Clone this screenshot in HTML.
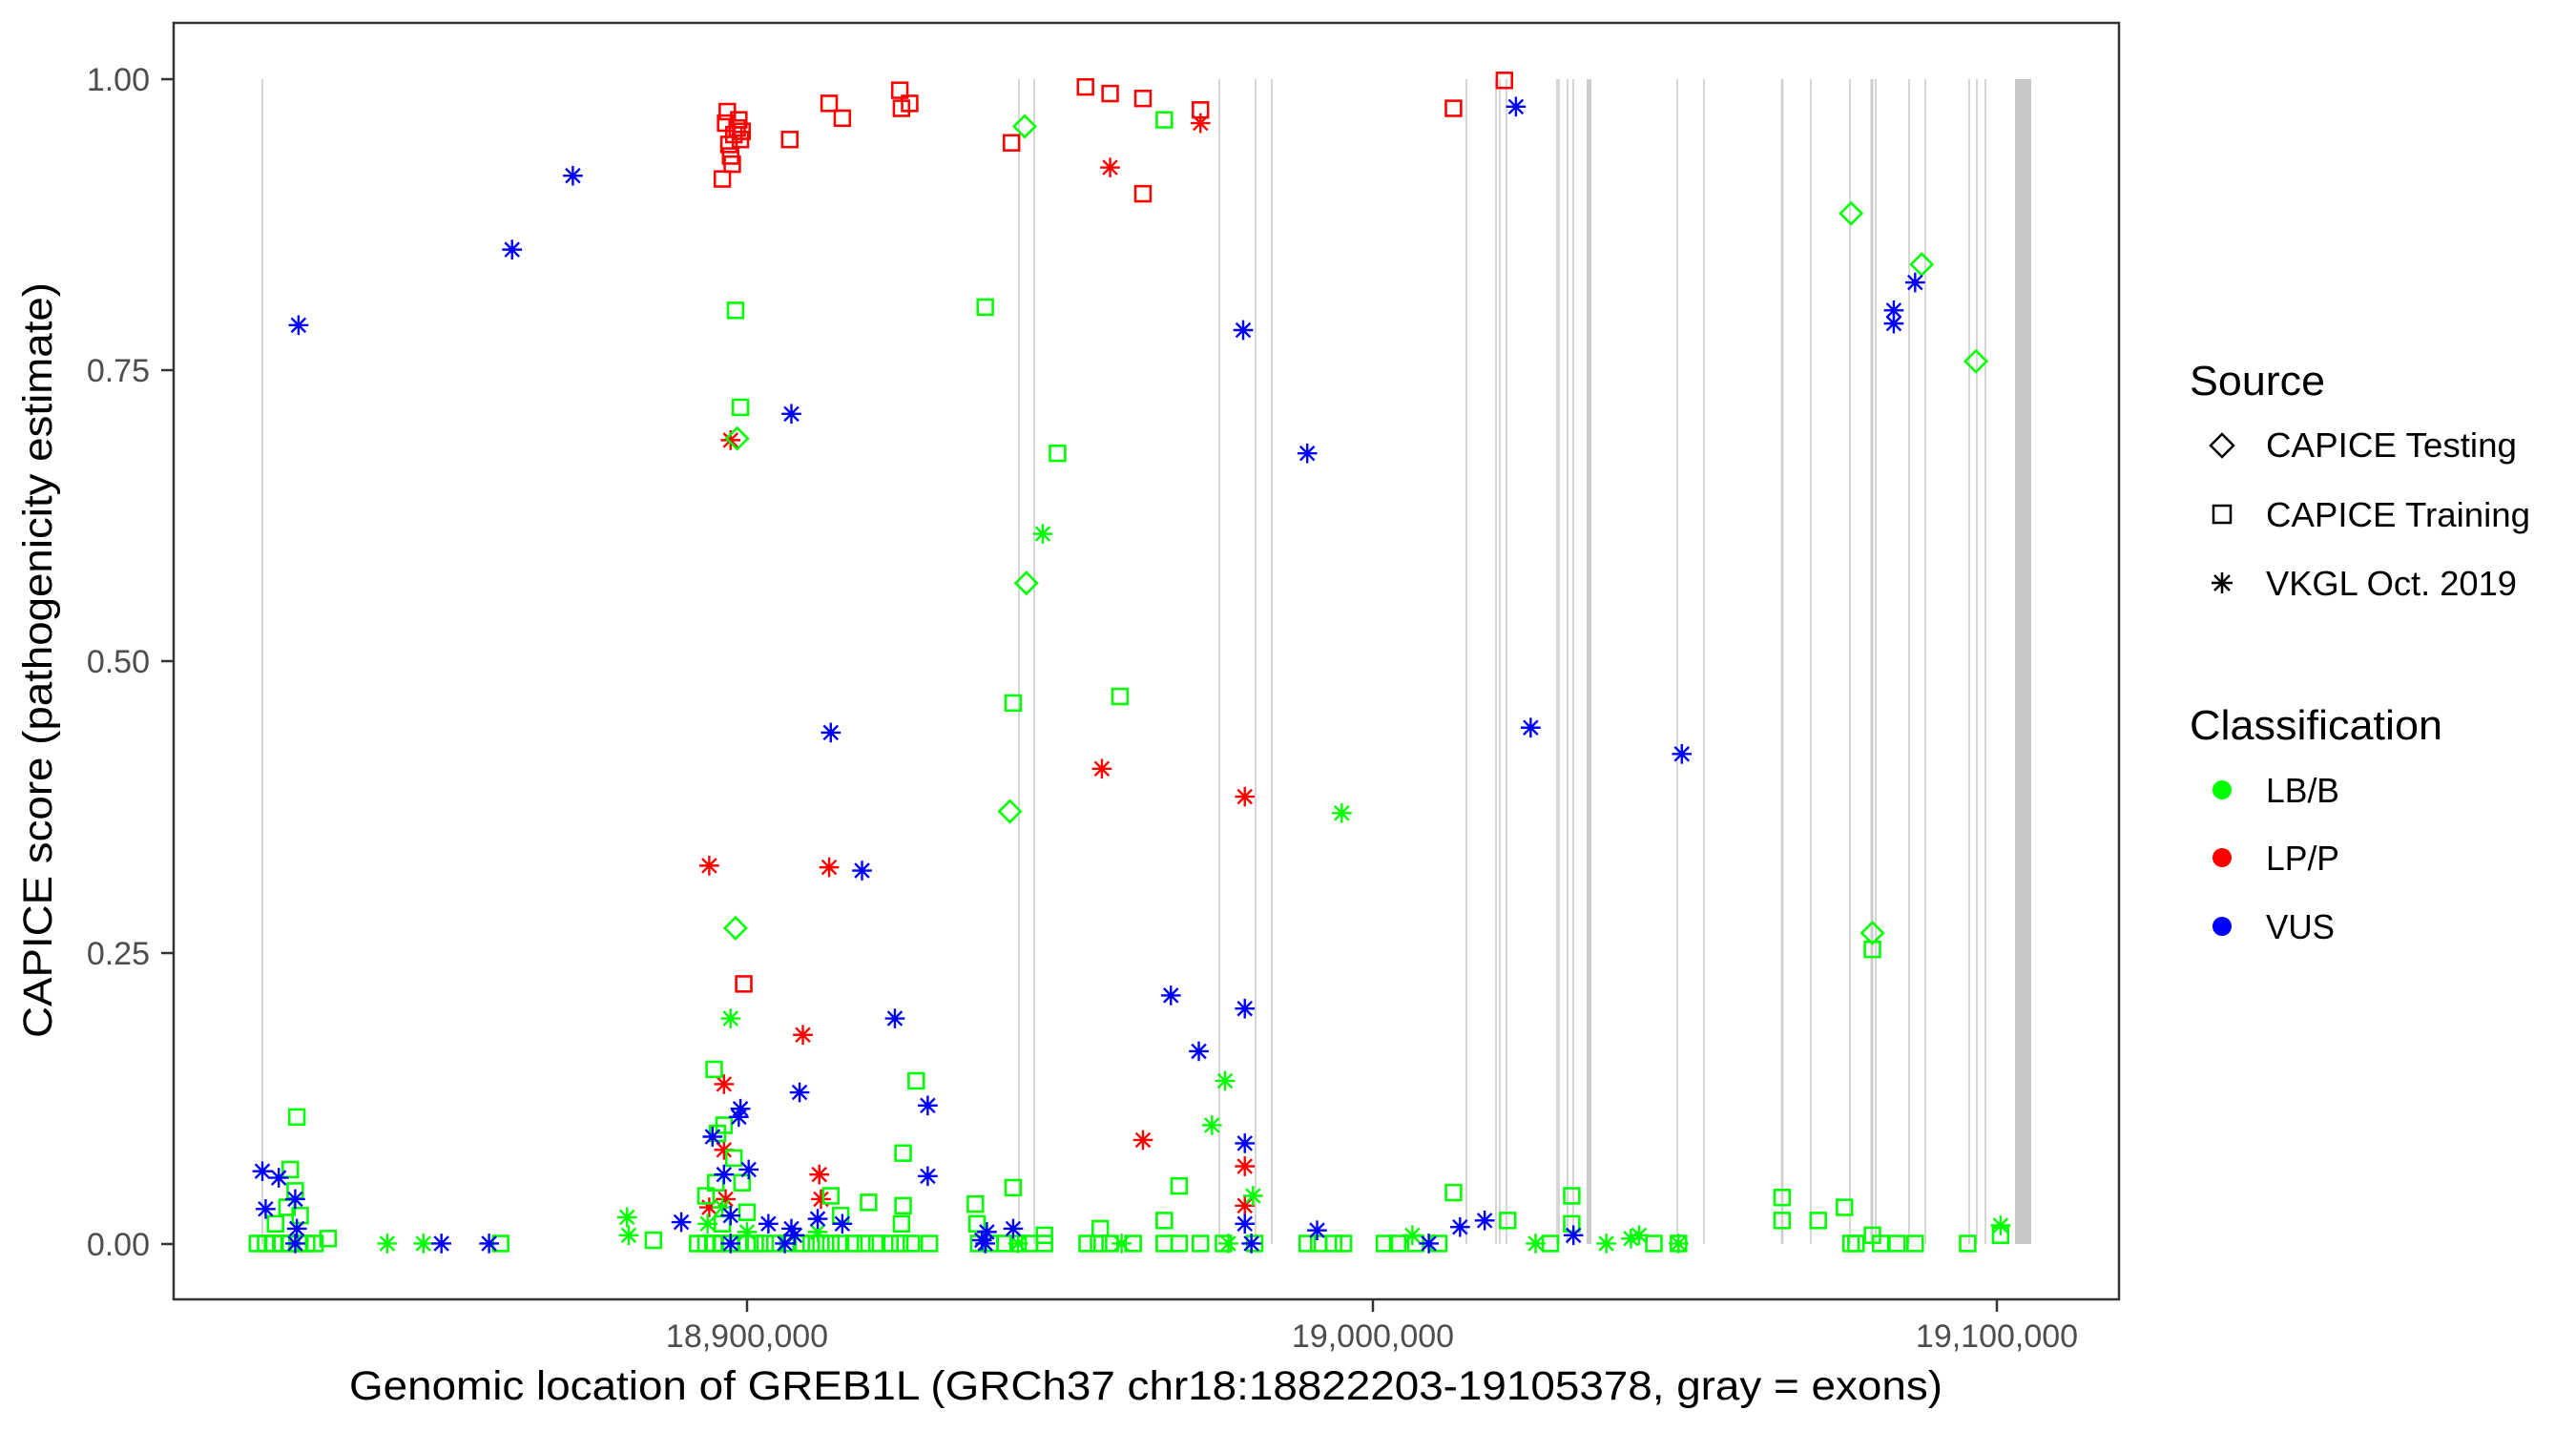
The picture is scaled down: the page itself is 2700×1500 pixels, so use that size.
<!DOCTYPE html>
<html><head><meta charset="utf-8"><style>html,body{margin:0;padding:0;background:#fff}svg{display:block}</style></head>
<body>
<svg xmlns="http://www.w3.org/2000/svg" width="2700" height="1500" viewBox="0 0 2700 1500" font-family="Liberation Sans, Arial, sans-serif">
<defs>
<g id="sq"><rect x="-4.6" y="-4.6" width="9.2" height="9.2" fill="none" stroke="currentColor" stroke-width="1.5"/></g>
<g id="di"><path d="M0,-6.5 L6.5,0 L0,6.5 L-6.5,0 Z" fill="none" stroke="currentColor" stroke-width="1.5"/></g>
<g id="st" stroke="currentColor" stroke-width="1.4"><path d="M0,-6V6M-6,0H6M-4.3,-4.3L4.3,4.3M-4.3,4.3L4.3,-4.3"/></g>
</defs>
<rect x="182" y="24" width="2039" height="1338" fill="#fff"/>
<g stroke="#cccccc" stroke-width="1.6">
<line x1="275" y1="83" x2="275" y2="1304"/><line x1="1068" y1="83" x2="1068" y2="1304"/><line x1="1084" y1="83" x2="1084" y2="1304"/>
<line x1="1278" y1="83" x2="1278" y2="1304"/><line x1="1316" y1="83" x2="1316" y2="1304"/><line x1="1333" y1="83" x2="1333" y2="1304"/>
<line x1="1537" y1="83" x2="1537" y2="1304"/><line x1="1568" y1="83" x2="1568" y2="1304"/><line x1="1572" y1="83" x2="1572" y2="1304"/>
<line x1="1579" y1="83" x2="1579" y2="1304"/><line x1="1632" y1="83" x2="1632" y2="1304"/><line x1="1634" y1="83" x2="1634" y2="1304"/>
<line x1="1643" y1="83" x2="1643" y2="1304"/><line x1="1649" y1="83" x2="1649" y2="1304"/>
<line x1="1665.5" y1="83" x2="1665.5" y2="1304" stroke-width="5"/>
<line x1="1758" y1="83" x2="1758" y2="1304"/><line x1="1786" y1="83" x2="1786" y2="1304"/>
<line x1="1868" y1="83" x2="1868" y2="1304" stroke-width="2.5"/><line x1="1898" y1="83" x2="1898" y2="1304"/>
<line x1="1939" y1="83" x2="1939" y2="1304"/><line x1="1962" y1="83" x2="1962" y2="1304" stroke-width="3"/>
<line x1="1966" y1="83" x2="1966" y2="1304"/><line x1="2001" y1="83" x2="2001" y2="1304"/><line x1="2018" y1="83" x2="2018" y2="1304"/>
<line x1="2064" y1="83" x2="2064" y2="1304"/><line x1="2072" y1="83" x2="2072" y2="1304"/><line x1="2081" y1="83" x2="2081" y2="1304"/>
</g>
<rect x="2112" y="83" width="17" height="1221" fill="#c8c8c8"/>
<g transform="translate(182,24) scale(1.722) translate(-106,-14)">
<g style="color:#ff0000">
<use href="#sq" x="440" y="109"/><use href="#sq" x="442" y="75"/><use href="#sq" x="443" y="68"/><use href="#sq" x="444" y="88"/><use href="#sq" x="445" y="95"/><use href="#sq" x="446" y="100"/><use href="#sq" x="447" y="82"/><use href="#sq" x="449" y="78"/><use href="#sq" x="450" y="73"/><use href="#sq" x="451" y="85"/><use href="#sq" x="452" y="80"/><use href="#sq" x="481" y="85"/><use href="#sq" x="505" y="63"/><use href="#sq" x="513" y="72"/><use href="#sq" x="548" y="55"/><use href="#sq" x="549" y="66"/><use href="#sq" x="554" y="63"/><use href="#sq" x="616" y="87"/><use href="#sq" x="661" y="53"/><use href="#sq" x="676" y="57"/><use href="#sq" x="696" y="60"/><use href="#sq" x="696" y="118"/><use href="#sq" x="731" y="67"/><use href="#sq" x="885" y="66"/><use href="#sq" x="916" y="49"/><use href="#sq" x="453" y="599"/>
<use href="#st" x="676" y="102"/><use href="#st" x="731" y="75"/><use href="#st" x="445" y="268"/><use href="#st" x="432" y="527"/><use href="#st" x="505" y="528"/><use href="#st" x="489" y="630"/><use href="#st" x="671" y="468"/><use href="#st" x="758" y="485"/><use href="#st" x="696" y="694"/><use href="#st" x="758" y="710"/><use href="#st" x="758" y="734"/><use href="#st" x="441" y="660"/><use href="#st" x="441" y="700"/><use href="#st" x="442" y="730"/><use href="#st" x="499" y="715"/><use href="#st" x="500" y="730"/><use href="#st" x="432" y="735"/>
</g>
<g style="color:#00ff00">
<use href="#sq" x="448" y="189"/><use href="#sq" x="451" y="248"/><use href="#sq" x="600" y="187"/><use href="#sq" x="617" y="428"/><use href="#sq" x="644" y="276"/><use href="#sq" x="682" y="424"/><use href="#sq" x="709" y="73"/><use href="#sq" x="435" y="651"/><use href="#sq" x="181" y="680"/><use href="#sq" x="177" y="712"/><use href="#sq" x="558" y="658"/><use href="#sq" x="550" y="702"/><use href="#sq" x="550" y="734"/><use href="#sq" x="529" y="732"/><use href="#sq" x="594" y="733"/><use href="#sq" x="617" y="723"/><use href="#sq" x="718" y="722"/><use href="#sq" x="709" y="743"/><use href="#sq" x="885" y="726"/><use href="#sq" x="957" y="728"/><use href="#sq" x="1085" y="729"/><use href="#sq" x="1085" y="743"/><use href="#sq" x="1107" y="743"/><use href="#sq" x="1123" y="735"/><use href="#sq" x="1140" y="578"/><use href="#sq" x="180" y="725"/><use href="#sq" x="175" y="735"/><use href="#sq" x="183" y="740"/><use href="#sq" x="168" y="745"/><use href="#sq" x="437" y="690"/><use href="#sq" x="441" y="685"/><use href="#sq" x="447" y="705"/><use href="#sq" x="452" y="720"/><use href="#sq" x="436" y="720"/><use href="#sq" x="430" y="728"/><use href="#sq" x="455" y="738"/><use href="#sq" x="440" y="745"/><use href="#sq" x="506" y="728"/><use href="#sq" x="512" y="740"/><use href="#sq" x="549" y="745"/><use href="#sq" x="595" y="745"/><use href="#sq" x="636" y="752"/><use href="#sq" x="670" y="748"/><use href="#sq" x="918" y="743"/><use href="#sq" x="957" y="745"/><use href="#sq" x="1140" y="752"/><use href="#sq" x="1218" y="752"/>
<use href="#sq" x="157" y="757"/><use href="#sq" x="162" y="757"/><use href="#sq" x="167" y="757"/><use href="#sq" x="172" y="757"/><use href="#sq" x="177" y="757"/><use href="#sq" x="182" y="757"/><use href="#sq" x="187" y="757"/><use href="#sq" x="192" y="757"/><use href="#sq" x="200" y="754"/><use href="#sq" x="305" y="757"/><use href="#sq" x="398" y="755"/>
<use href="#sq" x="425" y="757"/><use href="#sq" x="430" y="757"/><use href="#sq" x="435" y="757"/><use href="#sq" x="440" y="757"/><use href="#sq" x="445" y="757"/><use href="#sq" x="450" y="757"/><use href="#sq" x="455" y="757"/><use href="#sq" x="460" y="757"/><use href="#sq" x="466" y="757"/><use href="#sq" x="472" y="757"/><use href="#sq" x="480" y="757"/><use href="#sq" x="488" y="757"/><use href="#sq" x="494" y="757"/><use href="#sq" x="500" y="757"/><use href="#sq" x="506" y="757"/><use href="#sq" x="512" y="757"/><use href="#sq" x="520" y="757"/><use href="#sq" x="527" y="757"/><use href="#sq" x="534" y="757"/><use href="#sq" x="542" y="757"/><use href="#sq" x="548" y="757"/><use href="#sq" x="555" y="757"/><use href="#sq" x="566" y="757"/><use href="#sq" x="596" y="757"/><use href="#sq" x="603" y="757"/><use href="#sq" x="612" y="757"/><use href="#sq" x="620" y="757"/><use href="#sq" x="627" y="757"/><use href="#sq" x="636" y="757"/><use href="#sq" x="662" y="757"/><use href="#sq" x="669" y="757"/><use href="#sq" x="676" y="757"/><use href="#sq" x="690" y="757"/><use href="#sq" x="709" y="757"/><use href="#sq" x="718" y="757"/><use href="#sq" x="731" y="757"/><use href="#sq" x="745" y="757"/><use href="#sq" x="764" y="757"/><use href="#sq" x="796" y="757"/><use href="#sq" x="803" y="757"/><use href="#sq" x="812" y="757"/><use href="#sq" x="818" y="757"/><use href="#sq" x="843" y="757"/><use href="#sq" x="851" y="757"/><use href="#sq" x="862" y="757"/><use href="#sq" x="876" y="757"/><use href="#sq" x="944" y="757"/><use href="#sq" x="1007" y="757"/><use href="#sq" x="1022" y="757"/><use href="#sq" x="1127" y="757"/><use href="#sq" x="1130" y="757"/><use href="#sq" x="1145" y="757"/><use href="#sq" x="1155" y="757"/><use href="#sq" x="1166" y="757"/><use href="#sq" x="1198" y="757"/>
<use href="#di" x="624" y="77"/><use href="#di" x="449" y="267"/><use href="#di" x="448" y="565"/><use href="#di" x="625" y="355"/><use href="#di" x="615" y="494"/><use href="#di" x="1127" y="130"/><use href="#di" x="1170" y="161"/><use href="#di" x="1203" y="220"/><use href="#di" x="1140" y="568"/>
<use href="#st" x="635" y="325"/><use href="#st" x="817" y="495"/><use href="#st" x="445" y="620"/><use href="#st" x="746" y="658"/><use href="#st" x="738" y="685"/><use href="#st" x="763" y="728"/><use href="#st" x="1218" y="746"/><use href="#st" x="382" y="741"/><use href="#st" x="383" y="752"/><use href="#st" x="236" y="757"/><use href="#st" x="258" y="757"/><use href="#st" x="431" y="745"/><use href="#st" x="455" y="750"/><use href="#st" x="498" y="750"/><use href="#st" x="620" y="757"/><use href="#st" x="683" y="757"/><use href="#st" x="748" y="757"/><use href="#st" x="860" y="752"/><use href="#st" x="935" y="757"/><use href="#st" x="978" y="757"/><use href="#st" x="993" y="754"/><use href="#st" x="998" y="752"/><use href="#st" x="1022" y="757"/><use href="#st" x="440" y="735"/>
</g>
<g style="color:#0000ff">
<use href="#st" x="349" y="107"/><use href="#st" x="312" y="152"/><use href="#st" x="182" y="198"/><use href="#st" x="482" y="252"/><use href="#st" x="506" y="446"/><use href="#st" x="525" y="530"/><use href="#st" x="757" y="201"/><use href="#st" x="796" y="276"/><use href="#st" x="923" y="65"/><use href="#st" x="932" y="443"/><use href="#st" x="1024" y="459"/><use href="#st" x="1153" y="189"/><use href="#st" x="1153" y="197"/><use href="#st" x="1166" y="172"/><use href="#st" x="545" y="620"/><use href="#st" x="713" y="606"/><use href="#st" x="730" y="640"/><use href="#st" x="758" y="614"/><use href="#st" x="758" y="696"/><use href="#st" x="565" y="673"/><use href="#st" x="487" y="665"/><use href="#st" x="565" y="716"/><use href="#st" x="434" y="692"/><use href="#st" x="450" y="680"/><use href="#st" x="451" y="675"/><use href="#st" x="441" y="715"/><use href="#st" x="456" y="712"/><use href="#st" x="160" y="713"/><use href="#st" x="170" y="717"/><use href="#st" x="162" y="736"/><use href="#st" x="180" y="730"/><use href="#st" x="181" y="748"/><use href="#st" x="415" y="744"/><use href="#st" x="445" y="740"/><use href="#st" x="468" y="745"/><use href="#st" x="482" y="748"/><use href="#st" x="484" y="752"/><use href="#st" x="498" y="742"/><use href="#st" x="513" y="745"/><use href="#st" x="601" y="750"/><use href="#st" x="617" y="748"/><use href="#st" x="758" y="745"/><use href="#st" x="802" y="749"/><use href="#st" x="889" y="747"/><use href="#st" x="904" y="743"/><use href="#st" x="870" y="757"/><use href="#st" x="958" y="752"/><use href="#st" x="180" y="757"/><use href="#st" x="269" y="757"/><use href="#st" x="298" y="757"/><use href="#st" x="600" y="757"/><use href="#st" x="762" y="757"/><use href="#st" x="598" y="755"/><use href="#st" x="445" y="757"/><use href="#st" x="478" y="757"/>
</g>
</g>
<rect x="182" y="24" width="2039" height="1338" fill="none" stroke="#333" stroke-width="2.5"/>
<g stroke="#333" stroke-width="2.5">
<line x1="169" y1="83" x2="182" y2="83"/><line x1="169" y1="388" x2="182" y2="388"/><line x1="169" y1="693" x2="182" y2="693"/><line x1="169" y1="999" x2="182" y2="999"/><line x1="169" y1="1304" x2="182" y2="1304"/>
<line x1="783" y1="1362" x2="783" y2="1375"/><line x1="1439" y1="1362" x2="1439" y2="1375"/><line x1="2093" y1="1362" x2="2093" y2="1375"/>
</g>
<g fill="#4d4d4d" font-size="34">
<text x="157" y="95" text-anchor="end">1.00</text><text x="157" y="400" text-anchor="end">0.75</text><text x="157" y="705" text-anchor="end">0.50</text><text x="157" y="1011" text-anchor="end">0.25</text><text x="157" y="1316" text-anchor="end">0.00</text>
<text x="783" y="1412" text-anchor="middle">18,900,000</text><text x="1439" y="1412" text-anchor="middle">19,000,000</text><text x="2093" y="1412" text-anchor="middle">19,100,000</text>
</g>
<text x="366" y="1467" font-size="43" textLength="1670" lengthAdjust="spacingAndGlyphs">Genomic location of GREB1L (GRCh37 chr18:18822203-19105378, gray = exons)</text>
<text transform="translate(54,1088) rotate(-90)" font-size="43" textLength="792" lengthAdjust="spacingAndGlyphs">CAPICE score (pathogenicity estimate)</text>
<text x="2295" y="414" font-size="44" textLength="142" lengthAdjust="spacingAndGlyphs">Source</text>
<path d="M2329,455 L2341,467 L2329,479 L2317,467 Z" fill="none" stroke="#000" stroke-width="2.5"/>
<rect x="2320" y="530" width="18" height="18" fill="none" stroke="#000" stroke-width="2.5"/>
<path d="M2329,600V622M2318,611H2340M2321,603L2337,619M2321,619L2337,603" stroke="#000" stroke-width="2.5"/>
<g font-size="36">
<text x="2375" y="479" textLength="263" lengthAdjust="spacingAndGlyphs">CAPICE Testing</text>
<text x="2375" y="552" textLength="277" lengthAdjust="spacingAndGlyphs">CAPICE Training</text>
<text x="2375" y="624" textLength="263" lengthAdjust="spacingAndGlyphs">VKGL Oct. 2019</text>
</g>
<text x="2295" y="775" font-size="44" textLength="265" lengthAdjust="spacingAndGlyphs">Classification</text>
<circle cx="2329" cy="828" r="10" fill="#00ff00"/><circle cx="2329" cy="899" r="10" fill="#ff0000"/><circle cx="2329" cy="971" r="10" fill="#0000ff"/>
<g font-size="36">
<text x="2375" y="841" textLength="77" lengthAdjust="spacingAndGlyphs">LB/B</text>
<text x="2375" y="912" textLength="77" lengthAdjust="spacingAndGlyphs">LP/P</text>
<text x="2375" y="984" textLength="72" lengthAdjust="spacingAndGlyphs">VUS</text>
</g>
</svg>
</body></html>
